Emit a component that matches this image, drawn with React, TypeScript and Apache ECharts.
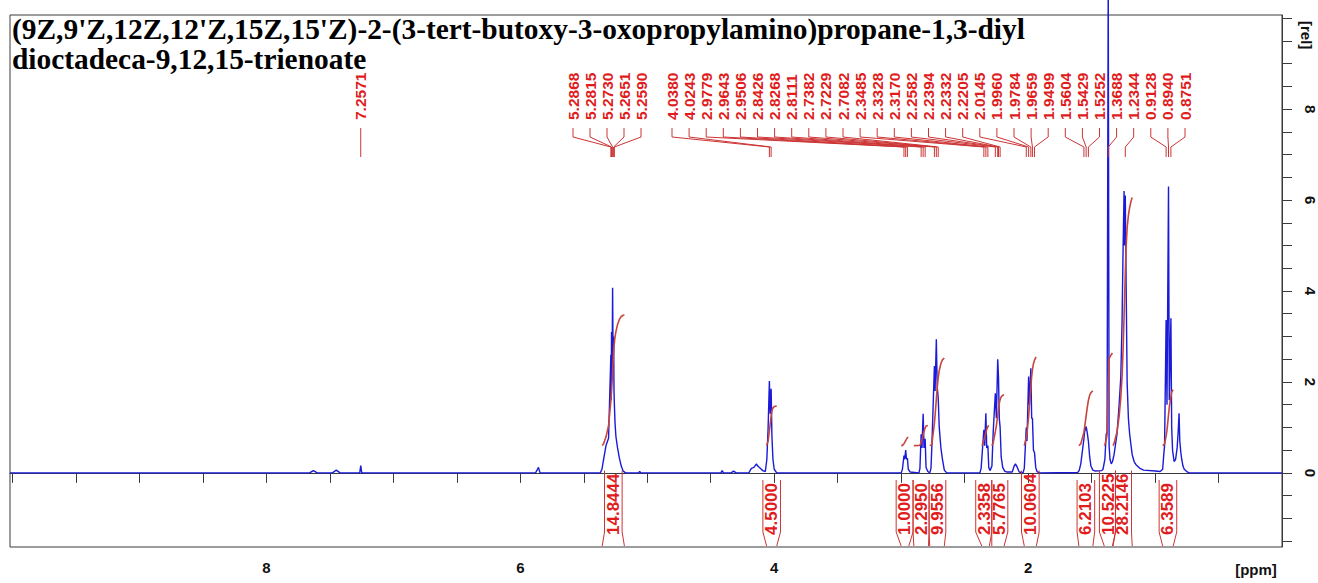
import React, { useEffect, useRef } from "react";
import * as echarts from "echarts";

// ---- Title ----
const TITLE_LINES = [
  "(9Z,9'Z,12Z,12'Z,15Z,15'Z)-2-(3-tert-butoxy-3-oxopropylamino)propane-1,3-diyl",
  "dioctadeca-9,12,15-trienoate",
];

// ---- Spectrum, [ppm, relative intensity], ordered from high to low ppm ----
const baselineLeft = [[10.02, 0], [7.7, 0]];
const lowFieldTraces = [
  [7.66, 0], [7.63, 0.05], [7.6, 0], [7.48, 0], [7.45, 0.06], [7.42, 0],
  [7.265, 0], [7.2571, 0.16], [7.249, 0], [5.88, 0], [5.865, 0.08], [5.857, 0.12], [5.845, 0], [5.37, 0],
];
const olefinic = [
  [5.357, 0.08], [5.345, 0.28], [5.325, 0.6], [5.305, 0.76], [5.2868, 2.6], [5.284, 1.6],
  [5.2815, 3.1], [5.277, 2.2], [5.273, 4.07], [5.269, 2.3], [5.2651, 3.0], [5.262, 1.8],
  [5.259, 1.5], [5.254, 1.1], [5.247, 0.8], [5.234, 0.55], [5.22, 0.33], [5.205, 0.15],
  [5.19, 0.04], [5.17, 0], [5.07, 0], [5.06, 0.03], [5.05, 0],
];
const glycerol = [
  [4.42, 0], [4.41, 0.05], [4.4, 0], [4.34, 0], [4.32, 0.04], [4.3, 0], [4.2, 0], [4.18, 0.1],
  [4.16, 0.12], [4.14, 0.2], [4.13, 0.15], [4.11, 0.1], [4.09, 0.05], [4.07, 0.03], [4.058, 0.3],
  [4.048, 1.0], [4.038, 2.02], [4.032, 1.3], [4.0243, 1.85], [4.018, 0.8], [4.01, 0.3],
  [4.0, 0.08], [3.98, 0],
];
const bisAllylic = [
  [3.0, 0], [2.99, 0.08], [2.9779, 0.38], [2.972, 0.3], [2.9643, 0.5], [2.958, 0.3], [2.9506, 0.32],
  [2.944, 0.08], [2.93, 0.02], [2.86, 0], [2.852, 0.1], [2.8426, 0.85], [2.836, 0.55], [2.8268, 1.3],
  [2.82, 0.55], [2.8111, 0.75], [2.804, 0.12], [2.79, 0.03], [2.775, 0], [2.765, 0.1], [2.758, 0.6],
  [2.7382, 2.35], [2.733, 1.8], [2.7229, 2.94], [2.716, 1.9], [2.7082, 1.65], [2.7, 1.0],
  [2.687, 0.55], [2.675, 0.3], [2.66, 0.06], [2.64, 0],
];
const alphaCarbonyl = [
  [2.38, 0], [2.37, 0.1], [2.36, 0.5], [2.3485, 0.95], [2.342, 0.6], [2.3328, 1.31], [2.326, 0.55],
  [2.317, 0.6], [2.31, 0.12], [2.3, 0.05], [2.295, 0.05], [2.285, 0.15], [2.275, 0.9], [2.2582, 1.75],
  [2.25, 1.2], [2.2394, 2.5], [2.2332, 2.1], [2.227, 1.2], [2.2205, 1.0], [2.212, 0.35], [2.2, 0.12],
  [2.185, 0.04], [2.17, 0.02], [2.125, 0.02], [2.11, 0.15], [2.1, 0.2], [2.085, 0.12], [2.07, 0.02],
];
const allylic = [
  [2.04, 0], [2.03, 0.1], [2.0145, 1.0], [2.009, 0.7], [1.996, 2.12], [1.99, 1.5], [1.9784, 2.3],
  [1.972, 1.2], [1.9659, 1.2], [1.958, 0.5], [1.9499, 0.45], [1.94, 0.12], [1.93, 0.03], [1.91, 0],
];
const betaCarbonyl = [
  [1.61, 0.01], [1.598, 0.05], [1.585, 0.2], [1.5604, 0.75], [1.555, 0.9], [1.5429, 1.02],
  [1.535, 0.9], [1.5252, 0.7], [1.515, 0.35], [1.505, 0.15], [1.49, 0.06], [1.47, 0.04], [1.42, 0.05],
];
const tertButyl = [
  [1.41, 0.08], [1.395, 0.3], [1.385, 0.85], [1.378, 0.9], [1.3688, 10.9], [1.362, 0.6],
  [1.355, 0.3], [1.345, 0.2], [1.335, 0.25],
];
const methylene = [
  [1.323, 0.4], [1.3, 0.85], [1.283, 1.5], [1.27, 2.1], [1.26, 3.3], [1.252, 4.9], [1.244, 6.2],
  [1.24, 5.0], [1.2344, 6.1], [1.228, 4.2], [1.22, 2.0], [1.21, 1.2], [1.2, 0.85], [1.19, 0.62],
  [1.18, 0.4], [1.165, 0.25], [1.15, 0.18], [1.12, 0.1], [1.09, 0.06], [1.0, 0.04], [0.96, 0.03],
];
const methyl = [
  [0.94, 0.08], [0.93, 0.45], [0.925, 0.6], [0.9128, 3.36], [0.906, 1.5], [0.894, 6.3], [0.888, 1.6],
  [0.8751, 3.4], [0.869, 1.0], [0.862, 0.5], [0.85, 0.25], [0.838, 0.3], [0.826, 0.55], [0.818, 0.9],
  [0.811, 1.31], [0.805, 0.7], [0.797, 0.45], [0.79, 0.3], [0.78, 0.15], [0.77, 0.08], [0.75, 0.03],
  [0.73, 0],
];
const baselineRight = [[0.5, 0], [0, 0]];

// ---- Peak picking ----
const PEAK_SHIFTS = [
  7.2571, 5.2868, 5.2815, 5.273, 5.2651, 5.259, 4.038, 4.0243, 2.9779, 2.9643, 2.9506, 2.8426,
  2.8268, 2.8111, 2.7382, 2.7229, 2.7082, 2.3485, 2.3328, 2.317, 2.2582, 2.2394, 2.2332, 2.2205,
  2.0145, 1.996, 1.9784, 1.9659, 1.9499, 1.5604, 1.5429, 1.5252, 1.3688, 1.2344, 0.9128, 0.894, 0.8751,
];

// ---- Integrals ----
const INTEGRAL_FROM = [5.355, 4.06, 3.0, 2.9, 2.775, 2.365, 2.286, 2.03, 1.6, 1.4, 1.331, 0.94];
const INTEGRAL_TO = [5.18, 3.98, 2.94, 2.785, 2.66, 2.305, 2.189, 1.935, 1.49, 1.336, 1.18, 0.857];
const INTEGRAL_VALUES = [14.8444, 4.5, 1.0, 2.295, 9.9556, 2.3358, 5.7765, 10.0604, 6.2103, 10.5225, 28.2146, 6.3589];

// ---- Axis ticks ----
const X_LABELS = [2, 4, 6, 8];
const Y_LABELS = [0, 2, 4, 6, 8];
const X_TICKS = [0.5, 1, 1.5, 2, 2.5, 3, 3.5, 4, 4.5, 5, 5.5, 6, 6.5, 7, 7.5, 8, 8.5, 9, 9.5, 10];
const Y_TICKS = [-1.5, -1, -0.5, 0, 0.5, 1, 1.5, 2, 2.5, 3, 3.5, 4, 4.5, 5, 5.5, 6, 6.5, 7, 7.5, 8, 8.5, 9, 9.5, 10];

const SPECTRUM = [
  ...baselineLeft, ...lowFieldTraces, ...olefinic, ...glycerol, ...bisAllylic, ...alphaCarbonyl,
  ...allylic, ...betaCarbonyl, ...tertButyl, ...methylene, ...methyl, ...baselineRight,
];

const BLUE = "#1a1ad8";
const RED = "#e01c1c";
const RED_LINE = "#cc3434";
const INTEGRAL_RED = "#c8453c";
const SANS = "'Liberation Sans', Arial, sans-serif";
const SERIF = "'Liberation Serif', 'Times New Roman', serif";

// intensity of the spectrum at any ppm (linear between stored points)
function intensityAt(ppm: number): number {
  for (let i = 1; i < SPECTRUM.length; i++) {
    const [a, ya] = SPECTRUM[i - 1];
    const [b, yb] = SPECTRUM[i];
    if (ppm <= a && ppm >= b) {
      if (a === b) return Math.max(ya, yb);
      return ya + ((a - ppm) / (a - b)) * (yb - ya);
    }
  }
  return 0;
}

// running integral curve over one region, scaled to its stated value
const INTEGRAL_BASE = 0.6;
const INTEGRAL_SCALE = 0.1934;
function integralCurve(from: number, to: number, value: number): number[][] {
  const seq: number[][] = [[from, intensityAt(from)]];
  SPECTRUM.forEach((p) => {
    if (p[0] < from && p[0] > to) seq.push(p);
  });
  seq.push([to, intensityAt(to)]);
  const cum: number[] = [0];
  for (let i = 1; i < seq.length; i++) {
    cum.push(cum[i - 1] + ((seq[i - 1][0] - seq[i][0]) * (seq[i - 1][1] + seq[i][1])) / 2);
  }
  const total = cum[cum.length - 1] || 1;
  return seq.map((p, i) => [p[0], INTEGRAL_BASE + (cum[i] / total) * value * INTEGRAL_SCALE]);
}

let measureCtx: CanvasRenderingContext2D | null = null;
function textWidth(text: string, font: string): number {
  if (!measureCtx) measureCtx = document.createElement("canvas").getContext("2d");
  if (!measureCtx) return text.length * 8;
  measureCtx.font = font;
  return measureCtx.measureText(text).width;
}

export default function App() {
  const ref = useRef<HTMLDivElement>(null);

  useEffect(() => {
    if (!ref.current) return;
    const chart = echarts.init(ref.current, null, { renderer: "svg" });

    const integralSeries = INTEGRAL_VALUES.map((v, i) => ({
      type: "line",
      data: integralCurve(INTEGRAL_FROM[i], INTEGRAL_TO[i], v),
      showSymbol: false,
      symbol: "none",
      lineStyle: { color: INTEGRAL_RED, width: 1.6 },
      z: 4,
      silent: true,
    }));

    chart.setOption({
      animation: false,
      backgroundColor: "#ffffff",
      grid: {
        left: 10, top: 15, right: 35, bottom: 36,
        show: true, borderColor: "#3a3a3a", borderWidth: 1, backgroundColor: "transparent",
      },
      xAxis: {
        type: "value", inverse: true, min: 0, max: 10.02,
        axisLine: { show: true, lineStyle: { color: "#3a3a3a", width: 1 } },
        axisTick: { show: true, customValues: X_TICKS, length: 10, lineStyle: { color: "#3a3a3a" } },
        axisLabel: {
          customValues: X_LABELS, margin: 13, color: "#111", fontSize: 15,
          fontWeight: "bold", fontFamily: SANS,
        },
        splitLine: { show: false },
      },
      yAxis: {
        type: "value", position: "right", min: -1.63, max: 10.07,
        axisLine: { show: true, lineStyle: { color: "#3a3a3a", width: 1 } },
        axisTick: { show: true, customValues: Y_TICKS, length: 10, lineStyle: { color: "#3a3a3a" } },
        axisLabel: {
          customValues: Y_LABELS, rotate: -90, margin: 21, color: "#111", fontSize: 15,
          fontWeight: "bold", fontFamily: SANS,
        },
        splitLine: { show: false },
      },
      series: [
        {
          type: "line",
          data: SPECTRUM,
          showSymbol: false,
          symbol: "none",
          clip: false,
          lineStyle: { color: BLUE, width: 1.4 },
          z: 3,
          silent: true,
        },
        ...integralSeries,
      ],
    });

    const toPx = (ppm: number, v: number) =>
      chart.convertToPixel({ gridIndex: 0 } as any, [ppm, v]) as number[];

    const elements: any[] = [];

    // title
    TITLE_LINES.forEach((line, i) => {
      elements.push({
        type: "text", x: 12, y: 14 + i * 30, z: 20,
        style: {
          text: line, fill: "#000", fontSize: 29.4, fontWeight: "bold", fontFamily: SERIF,
          align: "left", verticalAlign: "top",
        },
      });
    });

    // peak labels along the top, with their connector lines
    const labelGroups = [
      { first: 0, count: 1, startX: NaN, step: 0 },
      { first: 1, count: 5, startX: 573, step: 17 },
      { first: 6, count: 31, startX: 672, step: 17.1 },
    ];
    labelGroups.forEach((g) => {
      for (let k = 0; k < g.count; k++) {
        const idx = g.first + k;
        const shift = PEAK_SHIFTS[idx];
        const peakX = toPx(shift, 0)[0];
        const lx = isNaN(g.startX) ? peakX : g.startX + k * g.step;
        elements.push({
          type: "text", x: lx, y: 120, rotation: Math.PI / 2, z: 20,
          style: {
            text: shift.toFixed(4), fill: RED, fontSize: 15.5, fontWeight: "bold", fontFamily: SANS,
            align: "left", verticalAlign: "middle",
          },
        });
        elements.push({
          type: "polyline", z: 19, silent: true,
          shape: { points: [[lx, 128], [lx, 137], [peakX, 147], [peakX, 157]] },
          style: { stroke: RED_LINE, lineWidth: 1, fill: null },
        });
      }
    });

    // integral labels below the baseline
    const bottomFont = `bold 17px ${SANS}`;
    const centers = INTEGRAL_VALUES.map((_, i) => toPx((INTEGRAL_FROM[i] + INTEGRAL_TO[i]) / 2, 0)[0]);
    const minGap = 14.5;
    for (let pass = 0; pass < 10; pass++) {
      for (let i = 1; i < centers.length; i++) {
        const gap = centers[i] - centers[i - 1];
        if (gap < minGap) {
          const push = (minGap - gap) / 2;
          centers[i - 1] -= push;
          centers[i] += push;
        }
      }
    }
    INTEGRAL_VALUES.forEach((v, i) => {
      const text = v.toFixed(4);
      const cx = centers[i];
      const len = textWidth(text, bottomFont);
      const top = 535 - len - 3;
      const leftGap = i > 0 ? cx - centers[i - 1] : 99;
      const rightGap = i < centers.length - 1 ? centers[i + 1] - cx : 99;
      const hwL = Math.min(8.8, leftGap / 2);
      const hwR = Math.min(8.8, rightGap / 2);
      const xa = toPx(INTEGRAL_FROM[i], 0)[0];
      const xb = toPx(INTEGRAL_TO[i], 0)[0];
      elements.push({
        type: "text", x: cx, y: 535, rotation: Math.PI / 2, z: 20,
        style: {
          text, fill: RED, fontSize: 17, fontWeight: "bold", fontFamily: SANS,
          align: "left", verticalAlign: "middle",
        },
      });
      elements.push({
        type: "polyline", z: 19, silent: true,
        shape: { points: [[cx - hwL, top], [cx - hwL, 532], [xa, 546]] },
        style: { stroke: RED_LINE, lineWidth: 1, fill: null },
      });
      elements.push({
        type: "polyline", z: 19, silent: true,
        shape: { points: [[cx + hwR, top], [cx + hwR, 532], [xb, 546]] },
        style: { stroke: RED_LINE, lineWidth: 1, fill: null },
      });
    });

    // axis units
    elements.push({
      type: "text", x: 1306, y: 21, rotation: -Math.PI / 2, z: 20,
      style: {
        text: "[rel]", fill: "#111", fontSize: 15, fontWeight: "bold", fontFamily: SANS,
        align: "left", verticalAlign: "middle",
      },
    });
    elements.push({
      type: "text", x: 1256, y: 569, z: 20,
      style: {
        text: "[ppm]", fill: "#111", fontSize: 15, fontWeight: "bold", fontFamily: SANS,
        align: "center", verticalAlign: "middle",
      },
    });

    chart.setOption({ graphic: elements });

    return () => chart.dispose();
  }, []);

  return (
    <div
      ref={ref}
      style={{ position: "fixed", left: 0, top: 0, width: 1318, height: 583, background: "#ffffff" }}
    />
  );
}
